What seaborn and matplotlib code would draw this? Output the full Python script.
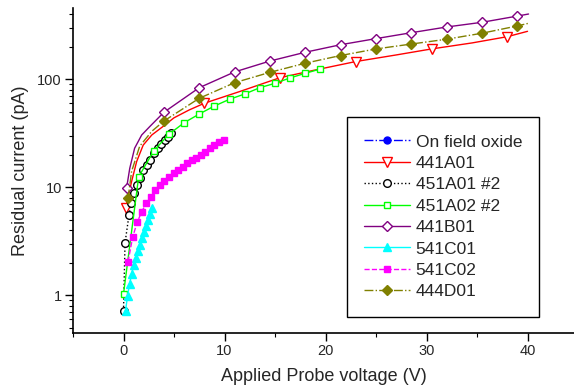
import numpy as np
import pandas as pd
import matplotlib
matplotlib.use("Agg")
import matplotlib.pyplot as plt
import matplotlib.ticker as mticker
import seaborn as sns

# ---------------- data ----------------
oxide_x = [0, 5, 10, 20, 30, 40]
oxide_y = [0.1, 0.1, 0.1, 0.1, 0.1, 0.1]

a441_x = [0.2, 0.5, 0.8, 1.3, 1.95, 2.8, 3.9, 5.0, 6.5, 8.0, 11.5, 15.5, 19, 23, 27, 30.5, 34.5, 38, 40]
a441_y = [6.4, 8.5, 11.3, 17.3, 24.6, 30.5, 36.5, 44, 52, 60, 77, 103.5, 122, 146, 168, 191, 217, 248, 278]
a441_marks = [0, 9, 11, 13, 15, 17]

a451_x = [0, 0.15, 0.55, 0.75, 1.0, 1.3, 1.6, 1.95, 2.3, 2.6, 3.0, 3.4, 3.75, 4.1, 4.4, 4.7]
a451_y = [0.72, 3.05, 5.6, 7.2, 8.8, 10.5, 12.3, 14.5, 16.2, 18.0, 20.6, 23, 25.2, 27.4, 29.4, 31.6]

a452_x = [0, 1.5, 3, 4.5, 6, 7.5, 9, 10.5, 12, 13.5, 15, 16.5, 18, 19.5]
a452_y = [1.03, 12.5, 21.8, 31, 39.6, 47.7, 56.6, 65.3, 73.1, 83.6, 91.8, 103, 113.7, 124.5]

b441_x = [0.3, 0.62, 1.1, 1.8, 2.6, 4.0, 7.5, 11, 14.5, 18, 21.5, 25, 28.5, 32, 35.5, 39, 40.1]
b441_y = [9.8, 15, 23, 30.5, 36.5, 49.5, 83.6, 117, 147.6, 178, 209, 238, 270, 305, 337, 385, 402]
b441_marks = [0, 5, 6, 7, 8, 9, 10, 11, 12, 13, 14, 15]

c541_x = [0.2, 0.4, 0.6, 0.8, 1.0, 1.2, 1.4, 1.6, 1.8, 2.0, 2.2, 2.4, 2.6, 2.85]
c541_y = [0.72, 0.985, 1.27, 1.57, 1.91, 2.22, 2.57, 2.95, 3.39, 3.86, 4.38, 4.98, 5.66, 6.43]

c542_x = [0.45, 0.9, 1.35, 1.8, 2.25, 2.7, 3.15, 3.6, 4.05, 4.5, 4.95, 5.4, 5.85,
          6.3, 6.75, 7.2, 7.65, 8.1, 8.55, 9.0, 9.45, 9.9]
c542_y = [2.05, 3.44, 4.74, 5.94, 7.1, 8.2, 9.4, 10.5, 11.4, 12.5, 13.5, 14.5, 15.5,
          16.7, 17.8, 18.8, 19.9, 21.4, 23.0, 24.6, 26.1, 27.4]

d444_x = [0.45, 0.8, 1.6, 2.8, 4.0, 7.5, 11, 14.5, 18, 21.5, 25, 28.5, 32, 35.5, 39, 40.1]
d444_y = [7.9, 14, 24, 33, 41.1, 66.7, 93, 116, 141, 166, 191, 212, 235, 267, 312, 330]
d444_marks = [0, 4, 5, 6, 7, 8, 9, 10, 11, 12, 13, 14]

x_ticks = [0, 10, 20, 30, 40]
y_ticks = [1, 10, 100]
y_ticklabels = ["1", "10", "100"]

# ---------------- plot ----------------
sns.set_style("ticks")
plt.rcParams["font.family"] = ["Liberation Sans", "DejaVu Sans"]

fig = plt.figure(figsize=(5.74, 3.87), dpi=100)
ax = fig.add_axes([73 / 574, 1 - 333 / 387, 1 - 73 / 574, (333 - 8) / 387])
ax.set_yscale("log")

series = [
    dict(x=oxide_x, y=oxide_y, label="On field oxide", color="#0000ff", ls="-.", marker="o",
         mfc="#0000ff", ms=5, me=None),
    dict(x=a441_x, y=a441_y, label="441A01", color="#ff0000", ls="-", marker="v",
         mfc="white", ms=7, me=a441_marks),
    dict(x=a451_x, y=a451_y, label="451A01 #2", color="#000000", ls=":", marker="o",
         mfc="white", ms=5.5, me=None),
    dict(x=a452_x, y=a452_y, label="451A02 #2", color="#00ff00", ls="-", marker="s",
         mfc="white", ms=5, me=None),
    dict(x=b441_x, y=b441_y, label="441B01", color="#800080", ls="-", marker="D",
         mfc="white", ms=5.5, me=b441_marks),
    dict(x=c541_x, y=c541_y, label="541C01", color="#00ffff", ls="-", marker="^",
         mfc="#00ffff", ms=5.5, me=None),
    dict(x=c542_x, y=c542_y, label="541C02", color="#ff00ff", ls="--", marker="s",
         mfc="#ff00ff", ms=5, me=None),
    dict(x=d444_x, y=d444_y, label="444D01", color="#808000", ls="-.", marker="D",
         mfc="#808000", ms=5.5, me=d444_marks),
]

for s in series:
    df = pd.DataFrame({"x": s["x"], "y": s["y"]})
    kw = {}
    if s["me"] is not None:
        kw["markevery"] = s["me"]
    sns.lineplot(data=df, x="x", y="y", ax=ax, color=s["color"], linestyle=s["ls"],
                 linewidth=1.0, marker=s["marker"], markersize=s["ms"],
                 markerfacecolor=s["mfc"], markeredgecolor=s["color"],
                 markeredgewidth=1.0, label=s["label"], sort=False, legend=False, **kw)

ax.set_xlim(-5, 44.6)
ax.set_ylim(0.448, 457)

ax.set_xticks(x_ticks)
ax.xaxis.set_minor_locator(mticker.MultipleLocator(5))
ax.set_yticks(y_ticks)
ax.set_yticklabels(y_ticklabels)
ax.yaxis.set_minor_locator(mticker.LogLocator(base=10, subs=np.arange(2, 10), numticks=20))
ax.yaxis.set_minor_formatter(mticker.NullFormatter())

ax.tick_params(axis="both", which="major", direction="out", length=5.5, width=1.0,
               labelsize=10.5, pad=2.5, color="black")
ax.tick_params(axis="both", which="minor", direction="out", length=3, width=0.8, color="black")

for side in ["top", "right"]:
    ax.spines[side].set_visible(False)
for side in ["left", "bottom"]:
    ax.spines[side].set_linewidth(1.2)
    ax.spines[side].set_color("black")

ax.set_xlabel("Applied Probe voltage (V)", fontsize=13, labelpad=7)
ax.set_ylabel("Residual current (pA)", fontsize=13, labelpad=6)

handles, labels = ax.get_legend_handles_labels()
leg = fig.legend(handles, labels, loc="upper left", bbox_to_anchor=(347 / 574, 1 - 117 / 387),
                 bbox_transform=fig.transFigure, borderaxespad=0, fontsize=12.5,
                 frameon=True, fancybox=False, framealpha=1, edgecolor="black",
                 handlelength=2.6, handletextpad=0.35, labelspacing=0.36, numpoints=1,
                 borderpad=1.0)
leg.get_frame().set_linewidth(1.0)

fig.savefig("out.png", dpi=100)
